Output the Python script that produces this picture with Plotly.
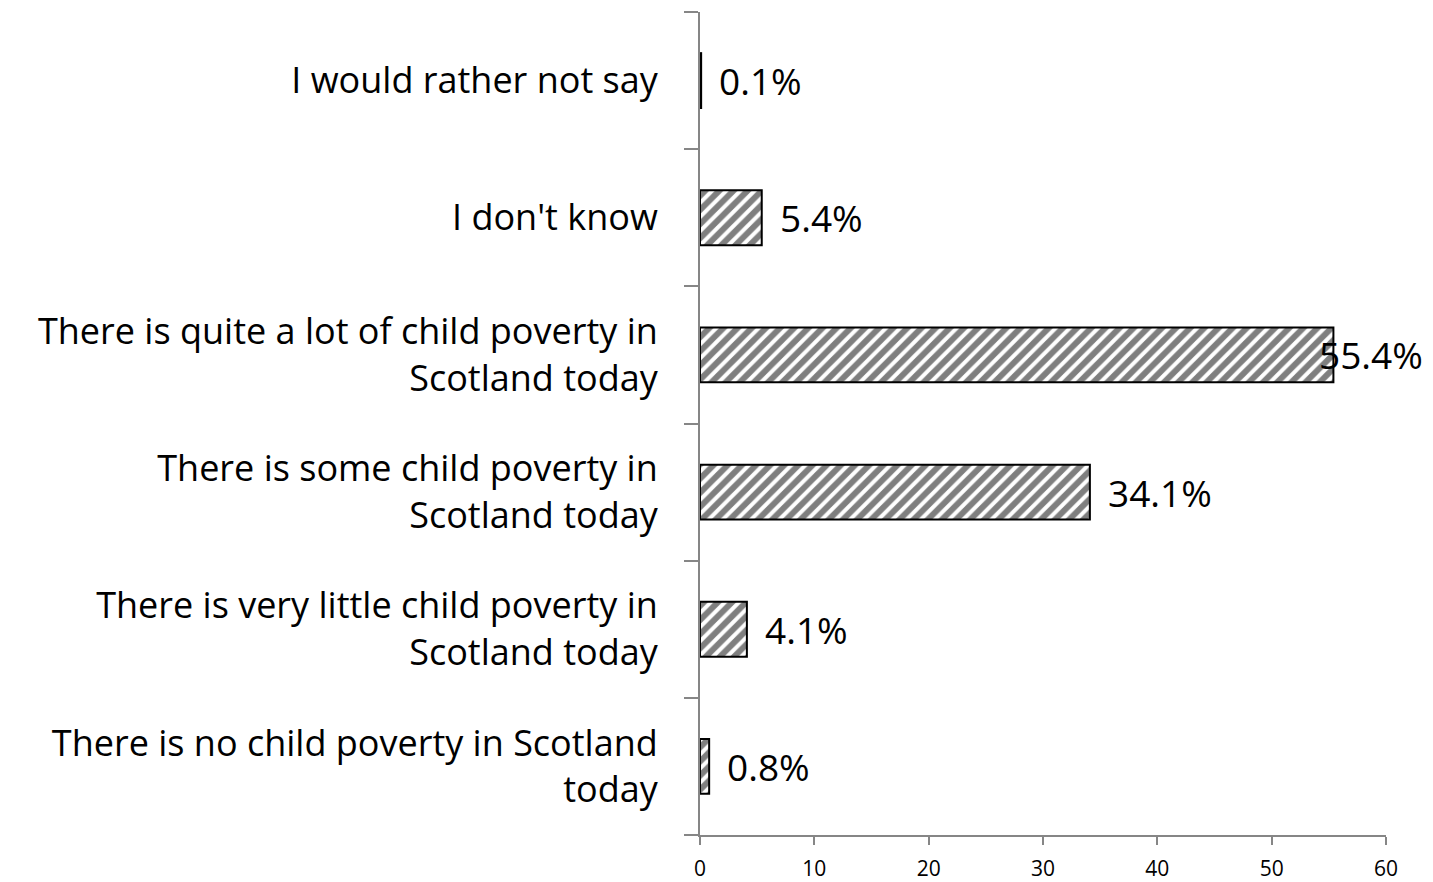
import plotly.graph_objects as go

categories = [
    "There is no child poverty in Scotland<br>today",
    "There is very little child poverty in<br>Scotland today",
    "There is some child poverty in<br>Scotland today",
    "There is quite a lot of child poverty in<br>Scotland today",
    "I don't know",
    "I would rather not say",
]
values = [0.8, 4.1, 34.1, 55.4, 5.4, 0.1]
value_labels = ["0.8%", "4.1%", "34.1%", "55.4%", "5.4%", "0.1%"]
x_ticks = [0, 10, 20, 30, 40, 50, 60]

FONT = "Open Sans"

fig = go.Figure()
fig.add_trace(go.Bar(
    x=values,
    y=categories,
    orientation="h",
    width=0.4,
    marker=dict(
        color="white",
        line=dict(color="black", width=2),
        pattern=dict(shape="/", fgcolor="black", bgcolor="white", size=10, solidity=0.6),
    ),
    hoverinfo="skip",
))

for v, c, lab in zip(values, categories, value_labels):
    shift = -16 if v > 50 else 16
    fig.add_annotation(
        x=v, y=c, text=lab, showarrow=False, xanchor="left", yanchor="middle",
        xshift=shift, font=dict(family=FONT, size=37, color="black"),
    )

fig.update_layout(
    width=1433, height=882,
    margin=dict(l=700, r=47, t=12, b=47),
    paper_bgcolor="white", plot_bgcolor="white",
    showlegend=False,
    bargap=0.6,
)
fig.update_xaxes(
    range=[0, 60], tickvals=x_ticks, showgrid=False, zeroline=False,
    showline=True, linecolor="#868686", linewidth=2,
    ticks="outside", ticklen=8, tickcolor="#868686", tickwidth=2,
    tickfont=dict(family=FONT, size=21, color="black"),
    ticklabelstandoff=6, automargin=False,
)
fig.update_yaxes(
    showgrid=False, zeroline=False, tickson="boundaries",
    showline=True, linecolor="#868686", linewidth=2,
    ticks="outside", ticklen=14, tickcolor="#868686", tickwidth=2,
    tickfont=dict(family=FONT, size=36, color="black"),
    ticklabelstandoff=33, automargin=False,
)

fig.write_html("out.html")
